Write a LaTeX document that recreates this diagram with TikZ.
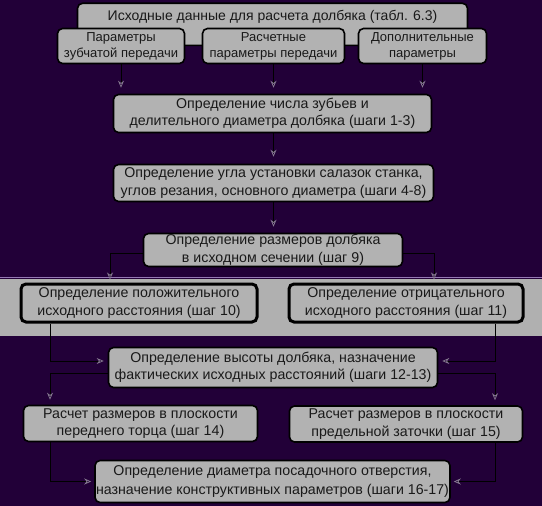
\documentclass[tikz,border=0pt]{standalone}
\usepackage{fontspec}
\setmainfont{Liberation Sans}
\usetikzlibrary{arrows.meta}
\definecolor{bg}{RGB}{34,0,56}
\definecolor{boxgray}{RGB}{178,178,178}
\definecolor{bandgray}{RGB}{176,176,176}
\definecolor{lav}{RGB}{150,120,180}
\definecolor{tipc}{RGB}{135,125,145}
\definecolor{txt}{RGB}{25,25,25}
\begin{document}
\begin{tikzpicture}[x=1pt,y=-1pt,
  font=\fontsize{14.2}{17.5}\selectfont,
  box/.style={draw=black, line width=1.6pt, fill=boxgray, rounded corners=5pt,
    align=center, inner sep=1pt, text=txt},
  smallbox/.style={box, font=\fontsize{13}{16}\selectfont},
  boldbox/.style={box, line width=3pt},
  ln/.style={draw=black, line width=0.8pt},
  arr/.style={ln, -{Stealth[open, length=7pt, width=6pt, color=tipc, line width=0.7pt]}}]
\useasboundingbox (0,0) rectangle (542,506);
\fill[bg] (0,0) rectangle (542,506);
% grey band
\fill[bandgray] (0,279) rectangle (542,336);
\draw[lav, line width=0.8pt] (0,277.8) -- (542,277.8);

% top box
\node[box, font=\fontsize{14}{17}\selectfont, anchor=north, minimum width=390pt, text height=14pt, text depth=22pt, inner ysep=3pt] (t) at (272.5,2.5)
  {Исходные данные для расчета долбяка (табл. 6.3)};
\node[smallbox, minimum width=127pt, minimum height=35pt] (b1) at (121,46)
  {Параметры\\зубчатой передачи};
\node[smallbox, minimum width=142pt, minimum height=35pt] (b2) at (273.5,46)
  {Расчетные\\параметры передачи};
\node[smallbox, minimum width=128pt, minimum height=35pt] (b3) at (422.5,46)
  {Дополнительные\\параметры};

\node[box, minimum width=318pt, minimum height=38pt] (b4) at (272.5,113.5)
  {Определение числа зубьев и\\делительного диаметра долбяка (шаги 1-3)};
\node[box, minimum width=320pt, minimum height=37pt] (b5) at (273.5,183)
  {Определение угла установки салазок станка,\\углов резания, основного диаметра (шаги 4-8)};
\node[box, minimum width=259pt, minimum height=33pt] (b6) at (273,250)
  {Определение размеров долбяка\\в исходном сечении (шаг 9)};

\node[boldbox, minimum width=236pt, minimum height=38pt] (b10) at (139,303)
  {Определение положительного\\исходного расстояния (шаг 10)};
\node[boldbox, minimum width=234pt, minimum height=38pt] (b11) at (406,303)
  {Определение отрицательного\\исходного расстояния (шаг 11)};

\node[box, minimum width=329pt, minimum height=40pt] (b12) at (273,367.5)
  {Определение высоты долбяка, назначение\\фактических исходных расстояний (шаги 12-13)};
\node[box, minimum width=234pt, minimum height=36pt] (b14) at (140.5,423.5)
  {Расчет размеров в плоскости\\переднего торца (шаг 14)};
\node[box, minimum width=233pt, minimum height=36pt] (b15) at (406,424)
  {Расчет размеров в плоскости\\предельной заточки (шаг 15)};
\node[box, font=\fontsize{14.2}{18.5}\selectfont, minimum width=354pt, minimum height=42pt] (b16) at (272.5,481.5)
  {Определение диаметра посадочного отверстия,\\назначение конструктивных параметров (шаги 16-17)};

% helper coordinates for vertical runs
\coordinate (xL) at (110,0);
\coordinate (xR) at (434,0);
\coordinate (xLL) at (50,0);
\coordinate (xRR) at (495,0);

% connectors
\draw[arr, shorten >=6pt] (b1.south) -- (b1.south |- b4.north);
\draw[arr, shorten >=6pt] (b2.south) -- (b2.south |- b4.north);
\draw[arr, shorten >=6pt] (b3.south) -- (b3.south |- b4.north);
\draw[arr, shorten >=7pt] (b4.south -| b2.south) -- (b5.north -| b2.south);
\draw[arr, shorten >=6pt] (b5.south -| b2.south) -- (b6.north -| b2.south);

\draw[arr, shorten >=3pt] ([yshift=-3pt]b6.west) -| (b10.north -| xL);
\draw[arr, shorten >=3pt] ([yshift=-3pt]b6.east) -| (b11.north -| xR);

\draw[arr, shorten >=4pt] (b10.south -| xLL) |- ([yshift=6.5pt]b12.west);
\draw[arr, shorten >=4pt] (b11.south -| xRR) |- ([yshift=6.5pt]b12.east);
\draw[arr, shorten >=5pt] ([yshift=-5.5pt]b12.west) -| (b14.north -| xLL);
\draw[arr, shorten >=5pt] ([yshift=-5.5pt]b12.east) -| (b15.north -| xRR);

\draw[arr, shorten >=3pt] (b14.south -| xLL) |- (b16.west);
\draw[arr, shorten >=3pt] (b15.south -| xRR) |- (b16.east);
\end{tikzpicture}
\end{document}
